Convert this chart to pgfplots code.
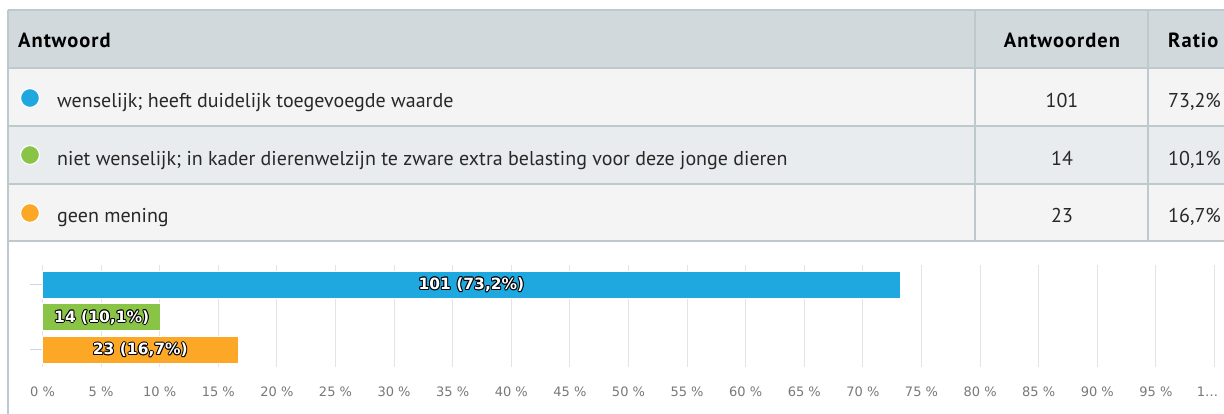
\documentclass[border=0pt]{standalone}
\usepackage{pgfplots}
\pgfplotsset{compat=1.18}
\usepackage{fontspec}
\setmainfont{PT Sans}
\newfontfamily\dejavu{DejaVu Sans}
\definecolor{cblue}{RGB}{31,168,224}
\definecolor{cgreen}{RGB}{137,196,70}
\definecolor{corange}{RGB}{252,168,38}
\definecolor{hdr}{RGB}{209,217,220}
\definecolor{rowa}{RGB}{244,244,244}
\definecolor{rowb}{RGB}{233,236,238}
\definecolor{bord}{RGB}{190,201,205}
\definecolor{txt}{RGB}{40,40,40}
\definecolor{tickc}{RGB}{204,214,235}
\definecolor{gridc}{RGB}{228,228,228}
\definecolor{lblc}{RGB}{120,120,120}
\newcommand\outl[1]{\leavevmode
 \rlap{\textcolor{black}{\hspace{-1pt}#1}}%
 \rlap{\textcolor{black}{\hspace{1pt}#1}}%
 \rlap{\textcolor{black}{\raisebox{1pt}{#1}}}%
 \rlap{\textcolor{black}{\raisebox{-1pt}{#1}}}%
 \rlap{\textcolor{black}{\hspace{-0.7pt}\raisebox{0.7pt}{#1}}}%
 \rlap{\textcolor{black}{\hspace{0.7pt}\raisebox{0.7pt}{#1}}}%
 \rlap{\textcolor{black}{\hspace{-0.7pt}\raisebox{-0.7pt}{#1}}}%
 \rlap{\textcolor{black}{\hspace{0.7pt}\raisebox{-0.7pt}{#1}}}%
 \textcolor{white}{#1}}
\begin{document}
\begin{tikzpicture}[x=1pt,y=1pt]
\useasboundingbox (0,0) rectangle (1224,414);
\begin{scope}
\clip (0,0) rectangle (1224,414);
\fill[hdr] (8,346) rectangle (1230,404);
\fill[rowa] (8,288) rectangle (1230,346);
\fill[rowb] (8,230) rectangle (1230,288);
\fill[rowa] (8,173) rectangle (1230,230);
\draw[bord, line width=2pt] (8,404) -- (1230,404);
\draw[bord, line width=1.2pt] (8,346) -- (1230,346);
\draw[bord, line width=1.2pt] (8,288) -- (1230,288);
\draw[bord, line width=1.2pt] (8,230) -- (1230,230);
\draw[bord, line width=1.2pt] (8,173) -- (1230,173);
\draw[bord, line width=1.2pt] (975,404) -- (975,173);
\draw[bord, line width=1.2pt] (1148,404) -- (1148,173);
\draw[bord, line width=1.5pt] (8,404) -- (8,0);
% header
\begin{scope}[every node/.style={inner sep=0, font=\fontsize{20.5}{22}\selectfont\bfseries\addfontfeature{LetterSpace=5}, text=black}]
\node[anchor=base west] at (18,366) {Antwoord};
\node[anchor=base] at (1062,366) {Antwoorden};
\node[anchor=base west] at (1168,366) {Ratio};
\end{scope}
% bullets
\fill[cblue, draw=white, line width=1.2pt] (30,316) circle (9.5);
\fill[cgreen, draw=white, line width=1.2pt] (30,259) circle (9.5);
\fill[corange, draw=white, line width=1.2pt] (30,201) circle (9.5);
% row texts
\begin{scope}[every node/.style={inner sep=0, font=\fontsize{20}{22}\selectfont, text=txt}]
\node[anchor=base west] at (57,306) {wenselijk; heeft duidelijk toegevoegde waarde};
\node[anchor=base west] at (57,248) {niet wenselijk; in kader dierenwelzijn te zware extra belasting voor deze jonge dieren};
\node[anchor=base west] at (57,191) {geen mening};
\node[anchor=base] at (1062,306) {101};
\node[anchor=base] at (1062,248) {14};
\node[anchor=base] at (1062,191) {23};
\node[anchor=base west] at (1168,306) {73,2\%};
\node[anchor=base west] at (1168,248) {10,1\%};
\node[anchor=base west] at (1168,191) {16,7\%};
\end{scope}
\end{scope}
\begin{axis}[
  at={(42.5pt,47pt)}, anchor=south west,
  scale only axis, width=1172pt, height=102pt,
  xmin=0, xmax=100, ymin=-0.52, ymax=2.6,
  xbar, bar width=27pt, bar shift=0pt,
  axis line style={draw=none},
  xtick={0,5,...,100},
  xticklabels={0 \%,5 \%,10 \%,15 \%,20 \%,25 \%,30 \%,35 \%,40 \%,45 \%,50 \%,55 \%,60 \%,65 \%,70 \%,75 \%,80 \%,85 \%,90 \%,95 \%,\hspace{-14pt}1\ldots},
  xtick style={draw=none},
  xmajorgrids, grid style={gridc, line width=1pt},
  ytick={0,2}, yticklabels={}, ytick pos=left, tick align=outside,
  ytick style={tickc, line width=1pt}, major tick length=12pt,
  xticklabel style={font=\dejavu\fontsize{13}{15}\selectfont, text=lblc, yshift=-4pt},
  clip=false,
  visualization depends on=rawx \as \rx,
  every node near coord/.append style={anchor=center, xshift={-5.86pt*\rx}, font=\dejavu\bfseries\fontsize{15.5}{17}\selectfont, inner sep=0},
]
\addplot[fill=cblue, draw=white, line width=0.8pt, nodes near coords={\outl{101 (73,2\%)}}] coordinates {(73.2,2)};
\addplot[fill=cgreen, draw=white, line width=0.8pt, nodes near coords={\outl{14 (10,1\%)}}] coordinates {(10.1,1)};
\addplot[fill=corange, draw=white, line width=0.8pt, nodes near coords={\outl{23 (16,7\%)}}] coordinates {(16.7,0)};
\end{axis}
\end{tikzpicture}
\end{document}
